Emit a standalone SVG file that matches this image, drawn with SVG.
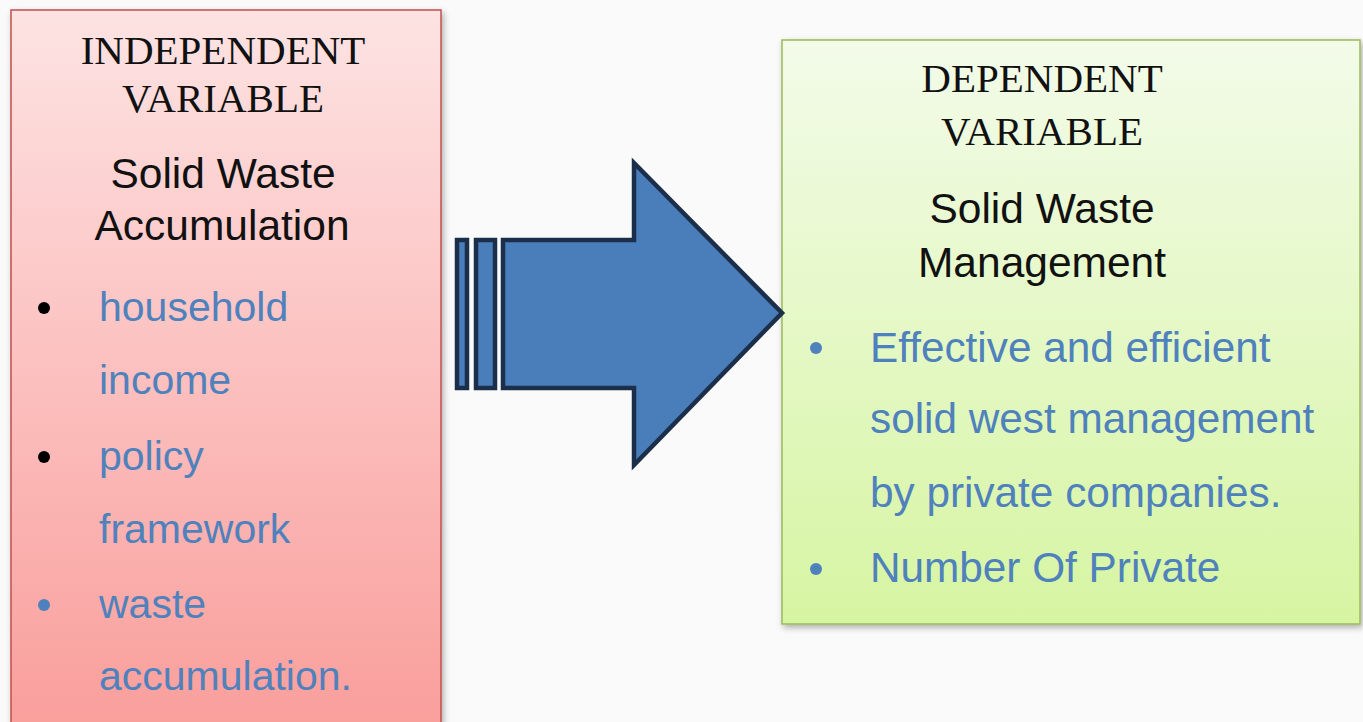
<svg xmlns="http://www.w3.org/2000/svg" width="1363" height="722" viewBox="0 0 1363 722">
<style>
.hdr{font-family:"Liberation Serif","Times New Roman",serif;font-size:41px;fill:#111;text-anchor:middle}
.ttl{font-family:"Liberation Sans",Arial,sans-serif;font-size:42.5px;fill:#111;text-anchor:middle}
.itm{font-family:"Liberation Sans",Arial,sans-serif;font-size:41px;fill:#4f81bd}
.itmR{font-family:"Liberation Sans",Arial,sans-serif;font-size:42.3px;fill:#4f81bd}
.arr{fill:#4a7ebb;stroke:#1c2f4a;stroke-width:4.5;stroke-linejoin:miter}
</style>
<defs>
<linearGradient id="gRed" x1="0" y1="0" x2="0" y2="1">
<stop offset="0" stop-color="#fde3e3"/>
<stop offset="1" stop-color="#f99d9a"/>
</linearGradient>
<linearGradient id="gGreen" x1="0" y1="0" x2="0" y2="1">
<stop offset="0" stop-color="#f3fbe9"/>
<stop offset="1" stop-color="#d6f5a2"/>
</linearGradient>
<filter id="sh" x="-10%" y="-10%" width="120%" height="120%">
<feDropShadow dx="2" dy="3" stdDeviation="3" flood-color="#000" flood-opacity="0.3"/>
</filter>
</defs>
<rect width="1363" height="722" fill="#fafafa"/>
<g id="independent">
<rect x="11" y="10" width="430" height="730" fill="url(#gRed)" stroke="#c0504d" stroke-width="1.5" filter="url(#sh)"/>
<text class="hdr" x="223" y="64">INDEPENDENT</text>
<text class="hdr" x="223" y="112">VARIABLE</text>
<text class="ttl" x="223" y="188">Solid Waste</text>
<text class="ttl" x="222" y="240">Accumulation</text>
<circle cx="44" cy="308" r="6" fill="#000"/>
<text class="itm" x="99" y="321">household</text>
<text class="itm" x="99" y="394">income</text>
<circle cx="44" cy="457" r="6" fill="#000"/>
<text class="itm" x="99" y="470">policy</text>
<text class="itm" x="99" y="543">framework</text>
<circle cx="44" cy="605" r="6" fill="#4f81bd"/>
<text class="itm" x="99" y="618">waste</text>
<text class="itm" x="99" y="690">accumulation.</text>
</g>
<g id="dependent">
<rect x="782" y="40" width="578" height="584" fill="url(#gGreen)" stroke="#9bbb59" stroke-width="1.5" filter="url(#sh)"/>
<text class="hdr" x="1042" y="92">DEPENDENT</text>
<text class="hdr" x="1042" y="145">VARIABLE</text>
<text class="ttl" x="1042" y="223">Solid Waste</text>
<text class="ttl" x="1042" y="277">Management</text>
<circle cx="816" cy="348" r="6" fill="#4f81bd"/>
<text class="itmR" x="870" y="362">Effective and efficient</text>
<text class="itmR" x="870" y="433">solid west management</text>
<text class="itmR" x="870" y="507">by private companies.</text>
<circle cx="816" cy="569" r="6" fill="#4f81bd"/>
<text class="itmR" x="870" y="582">Number Of Private</text>
</g>
<g id="connectors">
<rect class="arr" x="457" y="240" width="10" height="148"/>
<rect class="arr" x="476" y="240" width="19" height="148"/>
<path class="arr" d="M503,240 H634 V163 L782,313 L634,465 V388 H503 Z"/>
</g>
</svg>
